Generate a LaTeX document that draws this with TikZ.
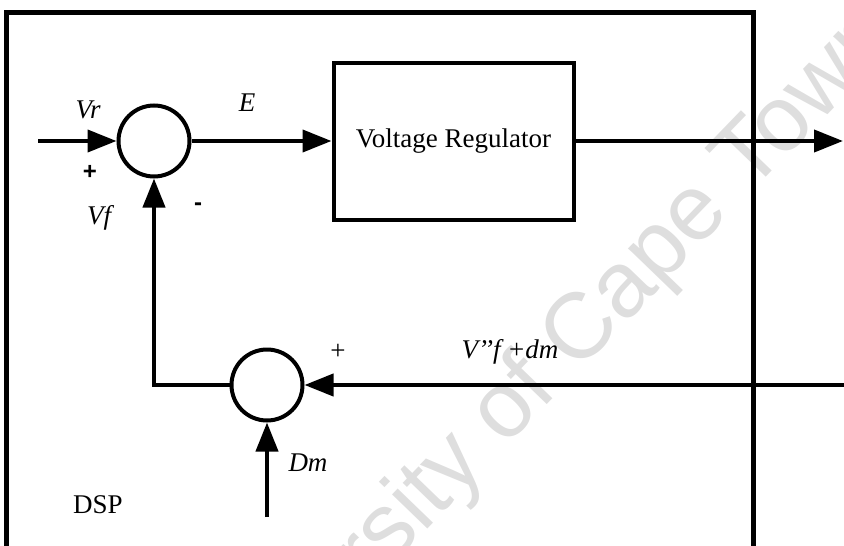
\documentclass[tikz,border=0pt]{standalone}
\usepackage{fontspec}
\setmainfont{Liberation Serif}
\newfontfamily\wmfont{Liberation Sans}
\usetikzlibrary{arrows.meta,positioning}

\begin{document}
\begin{tikzpicture}[
    x=1pt, y=-1pt,
    font=\fontsize{27}{31}\selectfont,
    sumnode/.style={circle, draw, line width=4pt, minimum size=71pt, inner sep=0pt},
    block/.style={draw, line width=4pt, minimum width=240pt, minimum height=157pt, align=center},
    wire/.style={line width=4pt},
    arrow/.style={wire, -{Triangle[length=29pt,width=22pt]}},
    lbl/.style={inner sep=0pt, font=\fontsize{27}{31}\selectfont\itshape},
    sign/.style={inner sep=0pt, font=\fontsize{24}{28}\selectfont\wmfont\bfseries},
    wm/.style={inner sep=0pt, text=black!13, font=\fontsize{93}{100}\selectfont\wmfont}
]
    \useasboundingbox (0,0) rectangle (844,546);
    % watermark
    \begin{scope}
        \clip (0,0) rectangle (844,546);
        \node[wm, rotate=46, anchor=base west] (mark) at (204,760) {University of Cape Town};
    \end{scope}

    \draw[line width=5pt] (6,548) |- (753,12) -- (753,548) -- cycle;

    \node[sumnode] (sumA) at (154,141) {};
    \node[block, right=140pt of sumA] (reg) {Voltage Regulator};
    \node[sumnode] (sumB) at (267,385) {};

    \coordinate (vin) at (38,141);
    \coordinate (vout) at (843,141);
    \coordinate (fbin) at (844,385);
    \coordinate (corner) at (sumA |- sumB);
    \coordinate (dmin) at (267,517);

    \draw[arrow] (vin) -- (sumA);
    \draw[arrow] (sumA) -- (reg);
    \draw[arrow] (reg) -- (vout);
    \draw[arrow] (fbin) -- (sumB);
    \draw[arrow] (sumB.west) -- (corner) -- (sumA.south);
    \draw[arrow] (dmin) -- (sumB.south);

    \node[lbl] (vr) at (88,110) {Vr};
    \node[sign] (plusA) at (90,172) {+};
    \node[lbl] (vf) at (99,218) {Vf};
    \node[sign] (minusA) at (198,207) {-};
    \node[lbl] (err) at (247,103) {E};
    \node[inner sep=0pt] (plusB) at (338,352) {+};
    \node[lbl] (vff) at (510,352) {V’’f +dm};
    \node[lbl] (dm) at (308,463) {Dm};
    \node[inner sep=0pt] (dsp) at (98,505) {DSP};
\end{tikzpicture}
\end{document}
